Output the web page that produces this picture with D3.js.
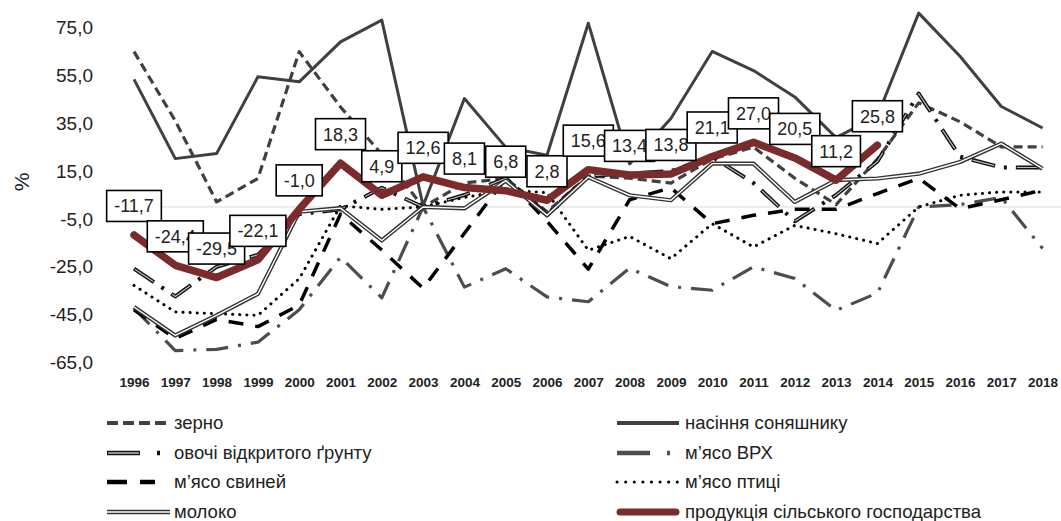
<!DOCTYPE html>
<html>
<head>
<meta charset="utf-8">
<script src="https://cdn.jsdelivr.net/npm/d3@7"></script>
<style>
  body { margin: 0; background: #fff; }
  svg { font-family: "Liberation Sans", Arial, sans-serif; }
</style>
</head>
<body>
<svg id="chart"></svg>
<script>
// роки
const years = d3.range(1996, 2019);

// темпи приросту, %
const grain      = [64.9, 36, 2.1, 11.9, 64.9, 41.8, 22, 0, 10, 12, -2, 13, 12, 10, 20, 25, 12, 1, 20, 43.5, 35.6, 25.1, 25.1];
const sunflower  = [53.3, 20.2, 22.3, 54.4, 52.3, 69, 78.1, 0.5, 45.3, 25, 21.6, 76.8, 18, 37, 65, 57, 46, 29, 38, 81, 63, 42, 33];
const vegetables = [-25.8, -37.4, -25, -20, -3, -1, 8, 0, 5, 12, -3, 13, 14, 15, 21, 10, -6, 5, 19, 47.4, 21, 16.5, 16.5];
const beef       = [-42.4, -60, -59.5, -56.5, -43, -21, -38, 0, -33.5, -25.8, -37.6, -39.6, -25.6, -33.3, -34.8, -25, -29.9, -43.2, -36, 0, 1, 4, -17.4];
const pork       = [-43, -55, -47, -50, -41, -3, -18, -34, -11, 12, -6, -26, 3, 8, -7, -3.5, -1, -1, 5.6, 12, -0.7, 3, 7];
const poultry    = [-32.8, -43.9, -44.6, -45.3, -30, 0.5, -1, 0, 4, 7, 6, -18.1, -12.3, -21.6, -7, -16.7, -7.7, -11.2, -15.3, 0, 4.9, 6.3, 6.3];
const milk       = [-41.8, -53.7, -45.3, -36.3, -2, -0.5, -14, 0, -0.6, 11, -3.5, 12.5, 4.9, 2.8, 18.1, 18.1, 2.1, 11.2, 11.9, 13.9, 18.8, 26.5, 16];
const agriculture = [-11.7, -24.4, -29.5, -22.1, -1.0, 18.3, 4.9, 12.6, 8.1, 6.8, 2.8, 15.6, 13.4, 13.8, 21.1, 27.0, 20.5, 11.2, 25.8];

const yTicks = [-65, -45, -25, -5, 15, 35, 55, 75];

const width = 1061, height = 521;
const svg = d3.select("#chart").attr("width", width).attr("height", height);

const x = d3.scalePoint().domain(years).range([134, 1042.6]);
const y = d3.scaleLinear().domain([-65, 75]).range([362.5, 27.5]);
const comma = v => d3.format(".1f")(v).replace(".", ",").replace("−", "-");

// вісь Y
svg.append("g")
  .attr("transform", "translate(93,0)")
  .call(d3.axisLeft(y).tickValues(yTicks).tickSize(0).tickPadding(0).tickFormat(comma))
  .call(g => g.select(".domain").remove())
  .selectAll("text")
  .attr("font-size", 19).attr("fill", "#222").attr("font-family", "Liberation Sans, Arial");

svg.append("text")
  .attr("transform", "translate(29,182) rotate(-90)")
  .attr("text-anchor", "middle")
  .attr("font-size", 21).attr("fill", "#222")
  .text("%");

// нульова лінія
svg.append("line")
  .attr("x1", 113).attr("x2", 1061)
  .attr("y1", y(0)).attr("y2", y(0))
  .attr("stroke", "#d9d9d9").attr("stroke-width", 1);

// вісь X
svg.append("g")
  .attr("transform", "translate(0,377)")
  .call(d3.axisBottom(x).tickSize(0).tickPadding(0))
  .call(g => g.select(".domain").remove())
  .selectAll("text")
  .attr("font-size", 13.5).attr("font-weight", "bold").attr("fill", "#222")
  .attr("font-family", "Liberation Sans, Arial");

const line = d3.line().x((d, i) => x(years[i])).y(d => y(d));

const series = [
  { name: "зерно", values: grain, strokes: [{ c: "#404040", w: 3.2, dash: "9,5" }],
    legend: [{ c: "#404040", w: 4, dash: "11,5" }] },
  { name: "насіння соняшнику", values: sunflower, strokes: [{ c: "#404040", w: 3 }],
    legend: [{ c: "#404040", w: 4 }] },
  { name: "овочі відкритого ґрунту", values: vegetables,
    strokes: [{ c: "#111", w: 4, dash: "24,9,3,9" }, { c: "#bbb", w: 1.2, dash: "0,1,22,22" }],
    legend: [{ c: "#111", w: 4.5, dash: "33,17,3,100" }, { c: "#bbb", w: 1.3, dash: "0,1,31,200" }] },
  { name: "м’ясо ВРХ", values: beef, strokes: [{ c: "#4d4d4d", w: 3.2, dash: "22,10,3,10" }],
    legend: [{ c: "#4d4d4d", w: 4.5, dash: "33,17,3,100" }] },
  { name: "м’ясо свиней", values: pork, strokes: [{ c: "#000", w: 3.5, dash: "15,12" }],
    legend: [{ c: "#000", w: 4.5, dash: "20,13,15,100" }] },
  { name: "м’ясо птиці", values: poultry, strokes: [{ c: "#000", w: 3, dash: "0.1,7", cap: "round" }],
    legend: [{ c: "#000", w: 3, dash: "0.1,8.5", cap: "round" }] },
  { name: "молоко", values: milk, strokes: [{ c: "#333", w: 4.2 }, { c: "#fff", w: 1.4 }],
    legend: [{ c: "#333", w: 4.5 }, { c: "#fff", w: 1.5 }] },
  { name: "продукція сільського господарства", values: agriculture, strokes: [{ c: "#7b2b2b", w: 7.5, cap: "round" }],
    legend: [{ c: "#7b2b2b", w: 7, cap: "round" }] }
];

const plot = svg.append("g");
series.forEach(s => {
  s.strokes.forEach(st => {
    plot.append("path")
      .datum(s.values)
      .attr("d", line)
      .attr("fill", "none")
      .attr("stroke", st.c)
      .attr("stroke-width", st.w)
      .attr("stroke-dasharray", st.dash || null)
      .attr("stroke-linecap", st.cap || "butt")
      .attr("stroke-linejoin", "round");
  });
});

// підписи даних
const labels = svg.append("g");
agriculture.forEach((v, i) => {
  const cx = x(years[i]), cy = y(v) - 29;
  const g = labels.append("g");
  const rect = g.append("rect").attr("fill", "#fff").attr("stroke", "#000").attr("stroke-width", 1.6);
  const t = g.append("text")
    .attr("x", cx).attr("y", cy + 6.5)
    .attr("text-anchor", "middle")
    .attr("font-size", 18).attr("fill", "#222")
    .text(comma(v));
  const w = t.node().getComputedTextLength() + 15;
  rect.attr("x", cx - w / 2).attr("y", cy - 15.5).attr("width", w).attr("height", 31);
});

// легенда
const legendCols = [{ x1: 107, x2: 170, tx: 174 }, { x1: 617, x2: 679, tx: 685 }];
const legendRows = [423, 453, 482, 512];
const legend = svg.append("g");
series.forEach((s, i) => {
  const col = legendCols[i % 2], ry = legendRows[Math.floor(i / 2)];
  s.legend.forEach(st => {
    const inset = st.cap === "round" && st.w > 5 ? 3 : 0;
    legend.append("line")
      .attr("x1", col.x1 + inset).attr("x2", col.x2 - inset)
      .attr("y1", ry).attr("y2", ry)
      .attr("stroke", st.c).attr("stroke-width", st.w)
      .attr("stroke-dasharray", st.dash || null)
      .attr("stroke-linecap", st.cap || "butt");
  });
  legend.append("text")
    .attr("x", col.tx).attr("y", ry + 6)
    .attr("font-size", 18.5).attr("fill", "#222")
    .text(s.name);
});
</script>
</body>
</html>
